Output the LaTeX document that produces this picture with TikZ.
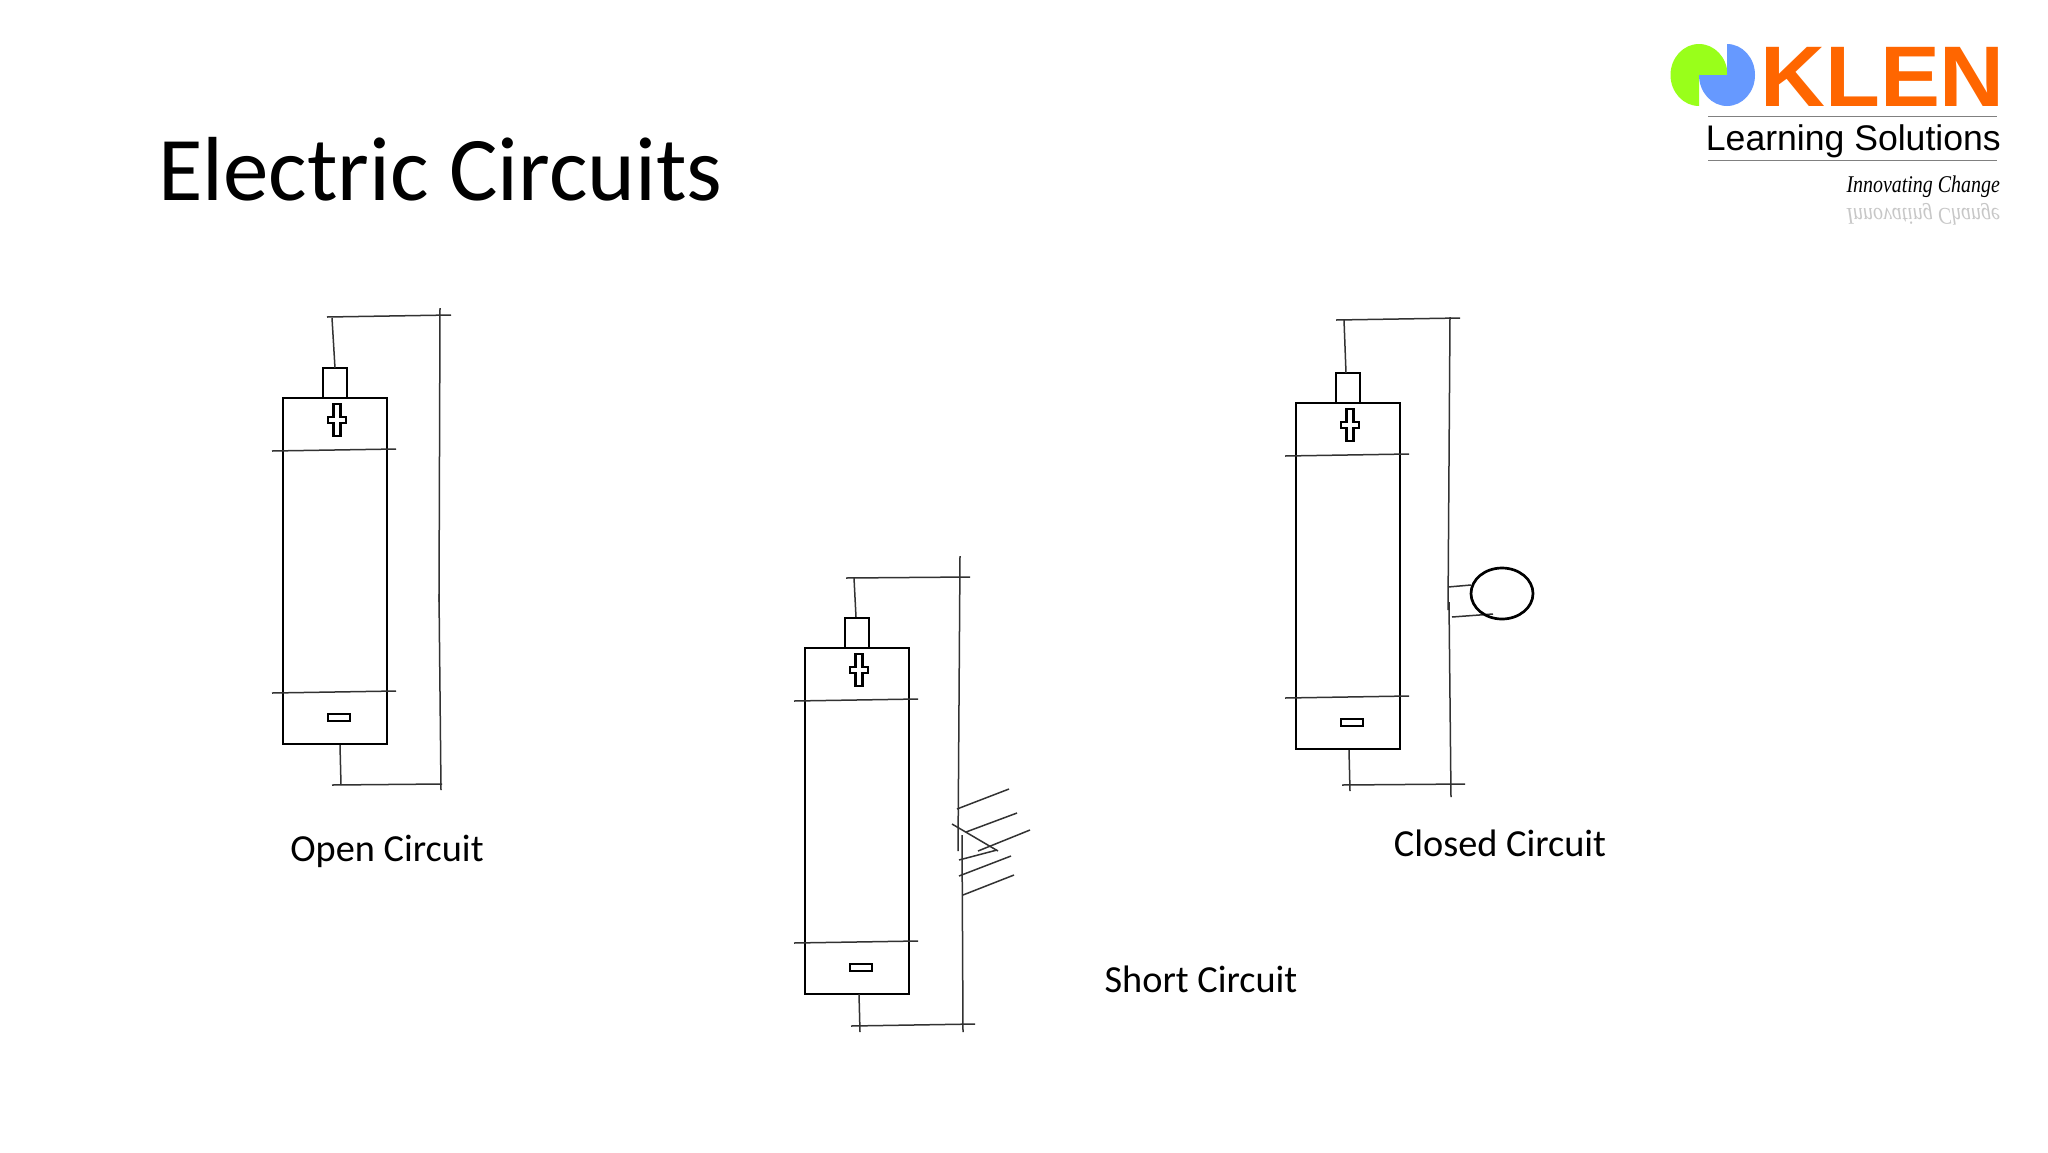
\documentclass[tikz,border=0pt]{standalone}
\usepackage{fontspec}
\setmainfont{Carlito}
\newfontfamily\logofont{Liberation Sans}
\newfontfamily\handfont{Liberation Serif}
\definecolor{klenorange}{RGB}{255,102,0}
\definecolor{klengreen}{RGB}{153,255,26}
\definecolor{klenblue}{RGB}{102,153,255}
\definecolor{wirecol}{RGB}{50,50,50}
\tikzset{
  body/.style={draw=black,line width=2.7pt,fill=none},
  wire/.style={draw=wirecol,line width=1.5pt},
  caption/.style={inner sep=0pt,font=\fontsize{38.3}{42}\selectfont,text=black},
  battery/.pic={
    \draw[body] (283,398) rectangle (387,744);
    \draw[body] (323,368) rectangle (347,398);
    \draw[body,line width=2.4pt] (333.5,404)--(340.5,404)--(340.5,417)--(346,417)--(346,423)--(340.5,423)--(340.5,436)--(333.5,436)--(333.5,423)--(328,423)--(328,417)--(333.5,417)--cycle;
    \draw[body,line width=2.4pt] (328,714) rectangle (350,721);
    \draw[wire] (272,451)--(396,449);
    \draw[wire] (272,693)--(396,691);
  }
}
\begin{document}
\begin{tikzpicture}[x=1pt,y=-1pt]
\useasboundingbox (0,0) rectangle (2048,1152);
\fill[white] (0,0) rectangle (2048,1152);
% title
\node[anchor=base west,inner sep=0pt,font=\fontsize{91}{96}\selectfont] (title) at (158,200) {Electric Circuits};
% logo
\fill[klengreen] (1699,75)--(1727.5,75) arc[start angle=0,end angle=270,x radius=28.5pt,y radius=31pt]--cycle;
\fill[klenblue] (1727,75)--(1727,44) arc[start angle=90,end angle=-180,x radius=28pt,y radius=31pt]--cycle;
\node[anchor=base west,inner sep=0pt,text=klenorange,xscale=1.045,font=\logofont\bfseries\fontsize{86}{86}\selectfont] (klen) at (1760,106) {KLEN};
\draw[gray,line width=1pt] (1708,116)--(1997,116);
\draw[gray,line width=1pt] (1708,160)--(1997,160);
\node[anchor=base east,inner sep=0pt,font=\logofont\fontsize{35.6}{36}\selectfont] (learning) at (2001,150) {Learning Solutions};
\node[anchor=base east,inner sep=0pt,xscale=.83,font=\handfont\itshape\fontsize{24}{24}\selectfont] (innov) at (2000,192) {Innovating Change};
\node[anchor=base east,inner sep=0pt,xscale=.83,yscale=-1,text=black!22,font=\handfont\itshape\fontsize{24}{24}\selectfont] (innovr) at (2000,208) {Innovating Change};
% batteries
\pic at (0,0) {battery};
\pic at (522,250) {battery};
\pic at (1013,5) {battery};
% open circuit
\draw[wire] (327,317)--(451,315);
\draw[wire] (332,318)--(335,368);
\draw[wire] (440,308)--(439,602);
\draw[wire] (439,594)--(441,790);
\draw[wire] (340,745)--(341,785);
\draw[wire] (332,785)--(442,784);
\node[caption] (open) at (387,851) {Open Circuit};
% short circuit
\draw[wire] (846,578)--(970,577);
\draw[wire] (854,578)--(856,617);
\draw[wire] (960,556)--(958,851);
\draw[wire] (962,835)--(963,1032);
\draw[wire] (859,994)--(860,1032);
\draw[wire] (851,1026)--(975,1024);
\draw[wire] (957,809)--(1009,789);
\draw[wire] (966,832)--(1017,813);
\draw[wire] (978,851)--(1030,830);
\draw[wire] (959,860)--(997,850);
\draw[wire] (959,876)--(1011,856);
\draw[wire] (963,895)--(1014,875);
\draw[wire] (952,824)--(998,851);
\node[caption] (short) at (1201,979) {Short Circuit};
% closed circuit
\draw[wire] (1336,320)--(1460,318);
\draw[wire] (1344,320)--(1346,373);
\draw[wire] (1450,317)--(1448,610);
\draw[wire] (1449,602)--(1451,797);
\draw[wire] (1349,750)--(1350,791);
\draw[wire] (1342,785)--(1465,784);
\draw[wire] (1448,587)--(1471,585);
\draw[wire] (1452,617)--(1493,614);
\draw[body] (1502,593.5) ellipse[x radius=31pt,y radius=25.5pt];
\node[caption] (closed) at (1500,843) {Closed Circuit};
\end{tikzpicture}
\end{document}
